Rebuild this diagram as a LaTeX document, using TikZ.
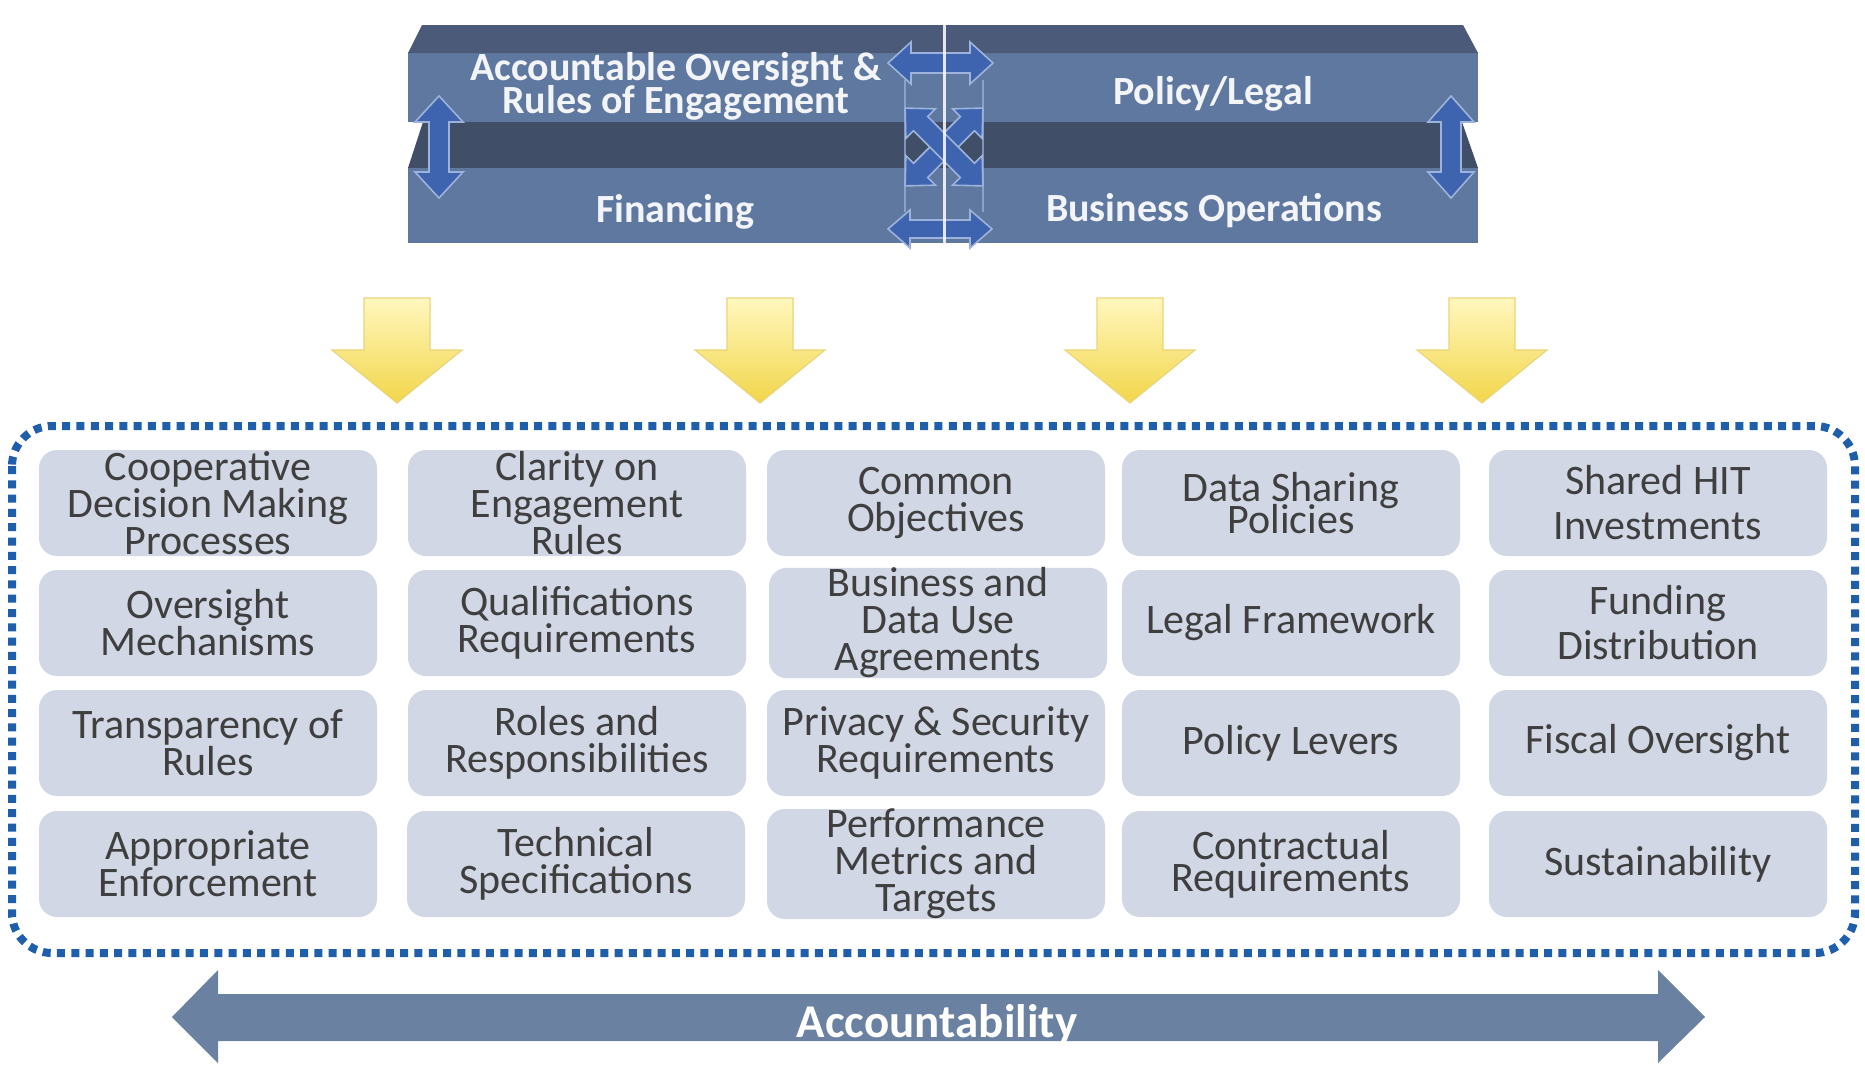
\documentclass[tikz,border=0pt]{standalone}
\usepackage{fontspec}
\setmainfont{Carlito}
\definecolor{bandTop}{HTML}{4B5A78}
\definecolor{bandFront}{HTML}{5F789F}
\definecolor{bandMid}{HTML}{414E68}
\definecolor{arrBlue}{HTML}{3F64AF}
\definecolor{arrEdge}{HTML}{9DB3DB}
\definecolor{yTop}{HTML}{FFF7BE}
\definecolor{yBot}{HTML}{F2D64A}
\definecolor{yEdge}{HTML}{EAD57A}
\definecolor{boxFill}{HTML}{D1D7E5}
\definecolor{textGray}{HTML}{3F3F3F}
\definecolor{dotBlue}{HTML}{1E5EAA}
\definecolor{accBlue}{HTML}{6A81A2}
\definecolor{bannerWhite}{HTML}{F2F4F8}
\newcommand\noLskip{\lineskiplimit -30pt\relax\lineskip 0pt\relax}
\newcommand\cellFont{\fontsize{21}{18.5}\selectfont\noLskip}
\newcommand\tightFont{\fontsize{21}{16}\selectfont\noLskip}
\newcommand\looseFont{\fontsize{21}{22.5}\selectfont\noLskip}
\newcommand\bannerFont{\bfseries\fontsize{20}{16.5}\selectfont\noLskip}
\newcommand\dArrV[6]{% cx, y1, y2, headlen, headhalf, shafthalf
 \path[blueArr] (#1,#2) -- ({#1+#5},{#2+#4}) -- ({#1+#6},{#2+#4}) -- ({#1+#6},{#3-#4}) -- ({#1+#5},{#3-#4}) -- (#1,#3) -- ({#1-#5},{#3-#4}) -- ({#1-#6},{#3-#4}) -- ({#1-#6},{#2+#4}) -- ({#1-#5},{#2+#4}) -- cycle;}
\newcommand\dArrH[6]{% cy, x1, x2, headlen, headhalf, shafthalf
 \path[blueArr] (#2,#1) -- ({#2+#4},{#1-#5}) -- ({#2+#4},{#1-#6}) -- ({#3-#4},{#1-#6}) -- ({#3-#4},{#1-#5}) -- (#3,#1) -- ({#3-#4},{#1+#5}) -- ({#3-#4},{#1+#6}) -- ({#2+#4},{#1+#6}) -- ({#2+#4},{#1+#5}) -- cycle;}
\newcommand\yArrow[1]{\path[yArr] ({#1-33},298) -- ({#1+33},298) -- ({#1+33},350) -- ({#1+65},350) -- (#1,403) -- ({#1-65},350) -- ({#1-33},350) -- cycle;}
\begin{document}
\begin{tikzpicture}[x=0.5pt,y=-0.5pt,
  cell/.style={rounded corners=9pt, fill=boxFill, minimum width=169pt, minimum height=53pt,
    align=center, text=textGray, inner sep=0pt, font=\cellFont},
  tight/.style={font=\tightFont},
  loose/.style={font=\looseFont},
  bannertext/.style={text=bannerWhite, font=\bannerFont, align=center, inner sep=0pt},
  blueArr/.style={fill=arrBlue, draw=arrEdge, line width=0.8pt},
  yArr/.style={top color=yTop, bottom color=yBot, draw=yEdge, line width=0.6pt}]
\useasboundingbox (0,0) rectangle (1865,1066);
\fill[white] (0,0) rectangle (1865,1066);

% banner
\fill[bandFront] (408,52) rectangle (1478,122);
\fill[bandTop] (422,25) -- (1463,25) -- (1478,53) -- (408,53) -- cycle;
\fill[bandMid] (423,122) -- (1462,122) -- (1478,168) -- (408,168) -- cycle;
\fill[bandFront] (408,168) rectangle (1478,243);

\node[bannertext] (t1) at (676,86) {Accountable Oversight \&\\Rules of Engagement};
\node[bannertext] (t2) at (1213,94) {Policy/Legal};
\node[bannertext] (t3) at (675,212) {Financing};
\node[bannertext] (t4) at (1214,211) {Business Operations};

% blue double arrows
\draw[arrEdge, line width=0.6pt, opacity=0.7] (905,80) -- (905,212) (983,80) -- (983,212);
\dArrV{439}{96}{198}{26}{24}{10}
\dArrV{1451}{96}{198}{26}{23}{10}
\dArrH{63}{888}{993}{23}{21}{10}
\dArrH{229}{888}{992}{22}{19}{9}
\begin{scope}[rotate around={45:(944,147)}]
 \dArrH{147}{889}{999}{22}{21}{10}
\end{scope}
\begin{scope}[rotate around={-45:(944,147)}]
 \dArrH{147}{889}{999}{22}{21}{10}
\end{scope}
\draw[white, opacity=0.85, line width=1.5pt] (944,20) -- (944,250);

% yellow arrows
\yArrow{397}
\yArrow{760}
\yArrow{1130}
\yArrow{1482}

% dotted frame
\draw[dotBlue, line width=4pt, dash pattern=on 4pt off 3.15pt, rounded corners=20pt]
  (12,426) rectangle (1855,953);

% cells
\node[cell] (c11) at (208,503) {Cooperative\\Decision Making\\Processes};
\node[cell] (c12) at (577,503) {Clarity on\\Engagement\\Rules};
\node[cell] (c13) at (936,503) {Common\\Objectives};
\node[cell,tight] (c14) at (1291,503) {Data Sharing\\Policies};
\node[cell,loose] (c15) at (1658,503) {Shared HIT\\Investments};

\node[cell] (c21) at (208,623) {Oversight\\Mechanisms};
\node[cell] (c22) at (577,623) {Qualifications\\Requirements};
\node[cell] (c23) at (938,623) {Business and\\Data Use\\Agreements};
\node[cell] (c24) at (1291,623) {Legal Framework};
\node[cell,loose] (c25) at (1658,623) {Funding\\Distribution};

\node[cell] (c31) at (208,743) {Transparency of\\Rules};
\node[cell] (c32) at (577,743) {Roles and\\Responsibilities};
\node[cell] (c33) at (936,743) {Privacy \& Security\\Requirements};
\node[cell] (c34) at (1291,743) {Policy Levers};
\node[cell] (c35) at (1658,743) {Fiscal Oversight};

\node[cell] (c41) at (208,864) {Appropriate\\Enforcement};
\node[cell] (c42) at (576,864) {Technical\\Specifications};
\node[cell] (c43) at (936,864) {Performance\\Metrics and\\Targets};
\node[cell,tight] (c44) at (1291,864) {Contractual\\Requirements};
\node[cell] (c45) at (1658,864) {Sustainability};

% accountability arrow
\fill[accBlue] (172,1017) -- (218,970) -- (218,994) -- (1658,994) -- (1658,970) -- (1705,1017)
  -- (1658,1063) -- (1658,1041) -- (218,1041) -- (218,1063) -- cycle;
\node[text=white, font=\bfseries\fontsize{23.5}{28}\selectfont, anchor=base, inner sep=0pt] (acc) at (937,1037) {Accountability};
\end{tikzpicture}
\end{document}
